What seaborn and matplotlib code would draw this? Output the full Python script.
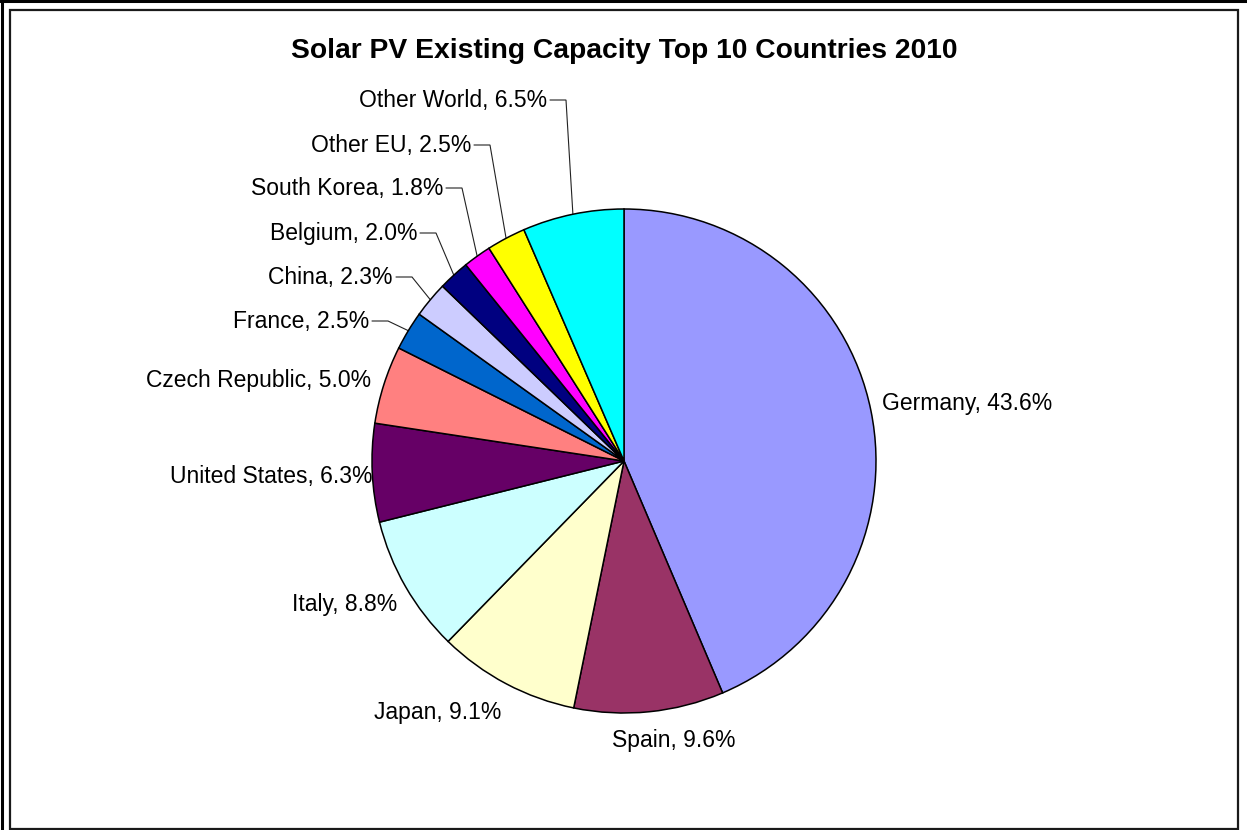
import numpy as np
import matplotlib
matplotlib.use("Agg")
import matplotlib.pyplot as plt
import seaborn as sns

# Installed solar PV capacity, share of world total (%), 2010
countries = ["Germany", "Spain", "Japan", "Italy", "United States",
             "Czech Republic", "France", "China", "Belgium", "South Korea",
             "Other EU", "Other World"]
shares = [43.6, 9.6, 9.1, 8.8, 6.3, 5.0, 2.5, 2.3, 2.0, 1.8, 2.5, 6.5]
slice_colors = ["#9999FF", "#993366", "#FFFFCC", "#CCFFFF", "#660066",
                "#FF8080", "#0066CC", "#CCCCFF", "#000080", "#FF00FF",
                "#FFFF00", "#00FFFF"]
title = "Solar PV Existing Capacity Top 10 Countries 2010"

sns.set_theme(style="white")
plt.rcParams["font.family"] = ["Liberation Sans", "DejaVu Sans"]

W, H = 1247, 830
fig = plt.figure(figsize=(W / 100, H / 100), dpi=100)
fig.patch.set_facecolor("white")
ax = fig.add_axes([0, 0, 1, 1])


def Y(py):
    """Convert a top-down pixel row to the axes' bottom-up coordinate."""
    return H - py


cx, cy, R = 624, 461, 252
wedges, _ = ax.pie(shares, colors=slice_colors, startangle=90,
                   counterclock=False, radius=R, center=(cx, Y(cy)),
                   wedgeprops=dict(edgecolor="black", linewidth=1.1))
ax.set_xlim(0, W)
ax.set_ylim(0, H)
ax.set_aspect("auto")
ax.axis("off")

# label placement: x anchor, baseline row, alignment, with leader line
label_layout = {
    "Germany": (882, 410, "left", False),
    "Spain": (612, 747, "left", False),
    "Japan": (501, 719, "right", False),
    "Italy": (397, 611, "right", False),
    "United States": (372, 483, "right", False),
    "Czech Republic": (371, 387, "right", False),
    "France": (369, 328, "right", True),
    "China": (393, 284, "right", True),
    "Belgium": (417, 240, "right", True),
    "South Korea": (443, 195, "right", True),
    "Other EU": (471, 152, "right", True),
    "Other World": (547, 107, "right", True),
}

label_size = 16.5
for name, value, w in zip(countries, shares, wedges):
    x, base, ha, leader = label_layout[name]
    ax.text(x, Y(base), f"{name}, {value:.1f}%", ha=ha, va="baseline",
            fontsize=label_size, color="black")
    if leader:
        mid = np.deg2rad((w.theta1 + w.theta2) / 2)
        ex = cx + R * np.cos(mid)
        ey = Y(cy) + R * np.sin(mid)
        ly = Y(base - 7)
        ax.plot([x + 3, x + 19, ex], [ly, ly, ey], color="#222222",
                lw=0.8, solid_joinstyle="miter", zorder=0.5)

fig.text(624 / W, Y(58) / H, title, ha="center", va="baseline",
         fontsize=20.3, fontweight="bold", color="black")

# chart frame
frame = plt.Rectangle((10 / W, 1 - 829 / H), 1228 / W, 819 / H,
                      transform=fig.transFigure, fill=False,
                      edgecolor="#1a1a1a", linewidth=1.6)
fig.add_artist(frame)
fig.add_artist(plt.Line2D([0, 1], [1 - 1.5 / H, 1 - 1.5 / H],
                          transform=fig.transFigure, color="black", lw=2.2))
fig.add_artist(plt.Line2D([1.5 / W, 1.5 / W], [0, 1],
                          transform=fig.transFigure, color="black", lw=2.2))

fig.savefig("out.png", dpi=100)
